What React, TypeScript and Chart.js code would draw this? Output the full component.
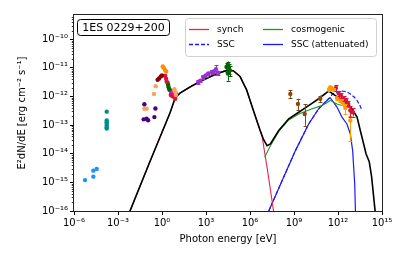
import React, { useEffect, useRef } from 'react';
import { Chart, registerables } from 'chart.js';

Chart.register(...registerables);

const FONT = "'DejaVu Sans', sans-serif";

// ---- axis ticks (log10 exponents) ----
const xTickExps = [-6, -3, 0, 3, 6, 9, 12, 15];
const yTickExps = [-16, -15, -14, -13, -12, -11, -10];
const xMin = 1e-6;
const xMax = 1e15;
const yMin = 1e-16;
const yMax = 7e-10;

// ---- model curves: log10 photon energy [eV] and log10 E^2 dN/dE ----
const totalLogE = [-2.3, -0.82, 0.55, 0.89, 1.23, 1.91, 2.59, 3.73, 4.41, 4.86, 5.32, 5.77, 6.22, 6.68, 6.92, 7.16, 7.39, 7.96, 8.64, 9.32, 10.0, 10.68, 11.36, 11.82, 12.5, 12.95, 13.3, 13.52, 13.75, 13.91, 14.13, 14.29, 14.55];
const totalLogF = [-16.15, -14.27, -12.57, -12.06, -11.88, -11.67, -11.48, -11.21, -11.09, -11.1, -11.3, -11.77, -12.47, -13.17, -13.5, -13.72, -13.66, -13.19, -12.78, -12.55, -12.32, -12.08, -11.81, -11.97, -12.2, -12.43, -12.72, -13.19, -13.66, -14.0, -14.28, -14.8, -16.1];

const synchLogE = [-2.3, -0.82, 0.55, 0.89, 1.23, 1.91, 2.59, 3.73, 4.41, 4.86, 5.32, 5.77, 6.22, 6.68, 6.82, 7.2, 7.65];
const synchLogF = [-16.15, -14.27, -12.57, -12.06, -11.88, -11.67, -11.48, -11.21, -11.09, -11.1, -11.3, -11.77, -12.47, -13.17, -13.38, -14.6, -16.15];

const cosmoLogE = [7.0, 7.39, 7.96, 8.64, 9.32, 10.23, 10.9, 11.48, 11.93, 12.5, 12.95];
const cosmoLogF = [-14.12, -13.72, -13.22, -12.82, -12.61, -12.43, -12.32, -12.14, -12.26, -12.35, -12.43];

const sscAttLogE = [7.28, 8.18, 9.09, 10.0, 10.68, 11.36, 11.48, 11.93, 12.27, 12.61, 12.84, 13.0, 13.14, 13.2];
const sscAttLogF = [-16.0, -14.95, -13.9, -12.96, -12.43, -12.08, -12.05, -12.37, -12.72, -12.96, -13.31, -13.9, -15.06, -16.2];

const sscLogE = [7.28, 8.18, 9.09, 10.0, 10.68, 11.36, 11.64, 12.0, 12.27, 12.6, 12.84, 13.1, 13.3, 13.5, 13.64];
const sscLogF = [-16.0, -14.95, -13.9, -12.96, -12.43, -12.08, -11.91, -11.83, -11.81, -11.84, -11.91, -12.02, -12.14, -12.32, -12.5];

// ---- observed data (log10 E, log10 flux) ----
const radioE = [-5.25, -4.68, -4.68, -4.45];
const radioF = [-14.92, -14.8, -14.59, -14.53];

const ir1E = [-3.77, -3.77, -3.77, -3.77, -3.77, -3.77, -3.77];
const ir1F = [-12.53, -12.84, -12.9, -12.96, -13.02, -13.08, -13.12];

const indigoE = [-1.2, -0.45, -1.25, -1.05, -0.95, -0.52];
const indigoF = [-12.27, -12.42, -12.8, -12.78, -12.83, -12.72];

const sandyE = [-1.2, -1.05, -0.55, -0.43, 0.85, 0.92, 0.95];
const sandyF = [-12.43, -12.43, -11.91, -11.64, -11.75, -11.85, -11.95];

const orangeOptE = [0.05, 0.12, 0.2, 0.28];
const orangeOptF = [-10.95, -11.0, -11.07, -11.13];

const darkredE = [-0.3, -0.2, -0.08, 0.0];
const darkredF = [-11.42, -11.37, -11.3, -11.27];

const crimsonOptE = [0.22, 0.28, 0.32, 0.6, 0.75, 0.9, 0.95];
const crimsonOptF = [-11.28, -11.38, -11.48, -11.95, -12.0, -12.08, -11.9];

const greenOptE = [0.38, 0.42, 0.45, 0.5];
const greenOptF = [-11.52, -11.6, -11.68, -11.76];

const magentaE = [0.55, 0.62, 0.7, 0.78];
const magentaF = [-11.78, -11.88, -11.98, -11.95];

const limeE = [0.7, 0.75];
const limeF = [-11.8, -11.9];

const xrayE = [2.47, 2.62, 2.81, 2.98, 3.16, 3.38, 3.55, 3.68, 3.84];
const xrayF = [-11.5, -11.45, -11.32, -11.27, -11.2, -11.15, -11.12, -11.05, -11.18];
const xrayLo = [-11.56, -11.51, -11.38, -11.33, -11.26, -11.21, -11.18, -11.24, -11.26];
const xrayHi = [-11.44, -11.39, -11.26, -11.21, -11.14, -11.09, -11.06, -10.9, -11.1];

const hardxE = [4.4, 4.48, 4.55, 4.62, 4.5];
const hardxF = [-10.97, -10.92, -11.0, -11.08, -11.2];
const hardxLo = [-11.15, -11.1, -11.2, -11.3, -11.45];
const hardxHi = [-10.82, -10.78, -10.85, -10.92, -11.05];

const fermiE = [8.75, 9.27, 9.73, 10.79];
const fermiF = [-11.91, -12.26, -12.61, -12.08];
const fermiLo = [-12.05, -12.47, -13.02, -12.2];
const fermiHi = [-11.77, -12.08, -12.28, -11.97];

const vhe1E = [11.4, 11.48, 11.55, 11.7, 11.93, 12.15, 12.3, 12.5, 12.84];
const vhe1F = [-11.75, -11.68, -11.72, -11.76, -12.05, -12.12, -12.2, -12.4, -12.84];
const vhe1Lo = [-11.8, -11.74, -11.78, -11.82, -12.12, -12.2, -12.3, -12.6, -13.54];
const vhe1Hi = [-11.7, -11.62, -11.66, -11.7, -11.98, -12.04, -12.1, -12.25, -12.67];

const vhe2E = [11.86, 12.05, 12.2, 12.38, 12.55, 12.7, 12.84, 13.0];
const vhe2F = [-11.7, -11.9, -11.97, -12.08, -12.15, -12.26, -12.49, -12.55];
const vhe2Lo = [-11.81, -11.98, -12.05, -12.16, -12.23, -12.35, -12.72, -12.7];
const vhe2Hi = [-11.6, -11.82, -11.89, -12.0, -12.07, -12.17, -12.32, -12.42];

const sourceName = '1ES 0229+200';
const legendItems = [
  { label: 'synch', color: '#e0284f', dash: [] as number[] },
  { label: 'SSC', color: '#1a1aff', dash: [4, 2] },
  { label: 'cosmogenic', color: '#1f9a1f', dash: [] as number[] },
  { label: 'SSC (attenuated)', color: '#1a1aff', dash: [] as number[] },
];

const SUP: Record<string, string> = {
  '-': '\u207B', '0': '\u2070', '1': '\u00B9', '2': '\u00B2', '3': '\u00B3',
  '4': '\u2074', '5': '\u2075', '6': '\u2076', '7': '\u2077', '8': '\u2078', '9': '\u2079',
};
const powLabel = (v: number) => {
  const e = Math.round(Math.log10(v));
  return '10' + String(e).split('').map((c) => SUP[c]).join('');
};

const pts = (le: number[], lf: number[]) => le.map((e, i) => ({ x: Math.pow(10, e), y: Math.pow(10, lf[i]) }));

const curve = (label: string, le: number[], lf: number[], color: string, width: number, order: number, dash: number[] = []) => ({
  label,
  data: pts(le, lf),
  showLine: true,
  pointRadius: 0,
  borderColor: color,
  backgroundColor: color,
  borderWidth: width,
  borderDash: dash,
  fill: false,
  tension: 0,
  order,
});

const points = (label: string, le: number[], lf: number[], color: string, lo?: number[], hi?: number[], r = 2.2) => ({
  label,
  data: pts(le, lf),
  showLine: false,
  pointRadius: r,
  pointBackgroundColor: color,
  pointBorderColor: color,
  pointBorderWidth: 0,
  borderColor: color,
  backgroundColor: color,
  errLo: lo,
  errHi: hi,
  order: 0,
});

const errorBarPlugin = {
  id: 'errorBars',
  afterDatasetsDraw(chart: any) {
    const { ctx } = chart;
    const xs = chart.scales.x;
    const ys = chart.scales.y;
    const area = chart.chartArea;
    ctx.save();
    ctx.beginPath();
    ctx.rect(area.left, area.top, area.right - area.left, area.bottom - area.top);
    ctx.clip();
    chart.data.datasets.forEach((ds: any) => {
      if (!ds.errLo) return;
      ctx.strokeStyle = ds.borderColor;
      ctx.lineWidth = 1;
      ds.data.forEach((p: any, i: number) => {
        const px = Math.round(xs.getPixelForValue(p.x)) + 0.5;
        const y1 = ys.getPixelForValue(Math.pow(10, ds.errLo[i]));
        const y2 = ys.getPixelForValue(Math.pow(10, ds.errHi[i]));
        ctx.beginPath();
        ctx.moveTo(px, y1);
        ctx.lineTo(px, y2);
        ctx.moveTo(px - 2, Math.round(y1) + 0.5);
        ctx.lineTo(px + 2, Math.round(y1) + 0.5);
        ctx.moveTo(px - 2, Math.round(y2) + 0.5);
        ctx.lineTo(px + 2, Math.round(y2) + 0.5);
        ctx.stroke();
      });
    });
    ctx.restore();
  },
};

const framePlugin = {
  id: 'frameAndDecor',
  afterDraw(chart: any) {
    const { ctx, chartArea: a } = chart;
    const ys = chart.scales.y;
    ctx.save();
    // minor ticks on y axis
    ctx.strokeStyle = '#000';
    ctx.lineWidth = 0.8;
    for (let e = -17; e <= -10; e++) {
      for (let k = 2; k <= 9; k++) {
        const v = k * Math.pow(10, e);
        if (v < yMin || v > yMax) continue;
        const py = Math.round(ys.getPixelForValue(v)) + 0.5;
        ctx.beginPath();
        ctx.moveTo(a.left - 2.2, py);
        ctx.lineTo(a.left, py);
        ctx.stroke();
      }
    }
    // frame
    ctx.strokeStyle = '#222';
    ctx.lineWidth = 1;
    ctx.strokeRect(Math.round(a.left) - 0.5, Math.round(a.top) - 0.5, Math.round(a.right - a.left) + 1, Math.round(a.bottom - a.top) + 1);

    // source label
    ctx.font = `11px ${FONT}`;
    ctx.textBaseline = 'middle';
    ctx.textAlign = 'center';
    ctx.beginPath();
    (ctx as any).roundRect(77.5, 19.5, 92, 16, 3);
    ctx.fillStyle = '#fff';
    ctx.fill();
    ctx.strokeStyle = '#000';
    ctx.lineWidth = 1;
    ctx.stroke();
    ctx.fillStyle = '#000';
    ctx.fillText(sourceName, 123.5, 28);

    // legend
    ctx.beginPath();
    (ctx as any).roundRect(185.5, 18.5, 191, 38, 3);
    ctx.fillStyle = 'rgba(255,255,255,0.85)';
    ctx.fill();
    ctx.strokeStyle = '#d0d0d0';
    ctx.stroke();
    ctx.font = `9px ${FONT}`;
    ctx.textAlign = 'left';
    const cols = [189, 263];
    const rows = [29.5, 44.5];
    legendItems.forEach((it, i) => {
      const cx = cols[Math.floor(i / 2)];
      const cy = rows[i % 2];
      ctx.strokeStyle = it.color;
      ctx.lineWidth = 1.3;
      ctx.setLineDash(it.dash);
      ctx.beginPath();
      ctx.moveTo(cx, cy);
      ctx.lineTo(cx + 20, cy);
      ctx.stroke();
      ctx.setLineDash([]);
      ctx.fillStyle = '#000';
      ctx.fillText(it.label, cx + 28, cy);
    });
    ctx.restore();
  },
};

export default function App() {
  const ref = useRef<HTMLCanvasElement | null>(null);
  useEffect(() => {
    if (!ref.current) return;
    const datasets: any[] = [
      points('radio', radioE, radioF, '#1e90ff'),
      points('ir1', ir1E, ir1F, '#008b8b'),
      points('indigo', indigoE, indigoF, '#4b0082'),
      points('sandy', sandyE, sandyF, '#f4a460'),
      points('orangeOpt', orangeOptE, orangeOptF, '#ff8c00'),
      points('darkred', darkredE, darkredF, '#8b0000'),
      points('crimsonOpt', crimsonOptE, crimsonOptF, '#dc143c'),
      points('greenOpt', greenOptE, greenOptF, '#006400'),
      points('magenta', magentaE, magentaF, '#ff00ff'),
      points('lime', limeE, limeF, '#9acd32'),
      points('xray', xrayE, xrayF, '#9932cc', xrayLo, xrayHi),
      points('hardx', hardxE, hardxF, '#006400', hardxLo, hardxHi),
      points('fermi', fermiE, fermiF, '#8b4513', fermiLo, fermiHi),
      points('vhe1', vhe1E, vhe1F, '#ff9900', vhe1Lo, vhe1Hi),
      points('vhe2', vhe2E, vhe2F, '#dc143c', vhe2Lo, vhe2Hi),
      curve('total', totalLogE, totalLogF, '#000000', 1.6, 1),
      curve('synch', synchLogE, synchLogF, '#e0284f', 1.1, 2),
      curve('cosmogenic', cosmoLogE, cosmoLogF, '#1f9a1f', 1.1, 2),
      curve('SSC (attenuated)', sscAttLogE, sscAttLogF, '#1a1aff', 1.2, 3),
      curve('SSC', sscLogE, sscLogF, '#1a1aff', 1.2, 4, [4, 2]),
    ];
    const chart = new Chart(ref.current, {
      type: 'scatter',
      data: { datasets },
      options: {
        responsive: false,
        animation: false,
        devicePixelRatio: 1,
        events: [],
        layout: { padding: { top: 15, right: 25, left: 0, bottom: 0 } },
        plugins: { legend: { display: false }, tooltip: { enabled: false } },
        scales: {
          x: {
            type: 'logarithmic',
            min: xMin,
            max: xMax,
            bounds: 'data',
            afterBuildTicks: (s: any) => {
              s.ticks = xTickExps.map((e) => ({ value: Math.pow(10, e) }));
            },
            afterFit: (s: any) => {
              s.height = 51;
            },
            ticks: {
              callback: (v: any) => powLabel(Number(v)),
              font: { family: FONT, size: 10 },
              color: '#000',
              padding: 2,
              autoSkip: false,
              maxRotation: 0,
            },
            grid: { drawOnChartArea: false, drawTicks: true, tickLength: 4, color: '#000' },
            border: { display: false },
            title: {
              display: true,
              text: 'Photon energy [eV]',
              font: { family: FONT, size: 10 },
              color: '#000',
              padding: { top: 0, bottom: 17 },
            },
          },
          y: {
            type: 'logarithmic',
            min: yMin,
            max: yMax,
            bounds: 'data',
            afterBuildTicks: (s: any) => {
              s.ticks = yTickExps.map((e) => ({ value: Math.pow(10, e) }));
            },
            afterFit: (s: any) => {
              s.width = 74;
            },
            ticks: {
              callback: (v: any) => powLabel(Number(v)),
              font: { family: FONT, size: 10 },
              color: '#000',
              padding: 2,
              autoSkip: false,
            },
            grid: { drawOnChartArea: false, drawTicks: true, tickLength: 4, color: '#000' },
            border: { display: false },
            title: {
              display: true,
              text: 'E\u00B2dN/dE [erg cm\u207B\u00B2 s\u207B\u00B9]',
              font: { family: FONT, size: 10 },
              color: '#000',
              padding: { top: 16, bottom: 0 },
            },
          },
        },
      },
      plugins: [errorBarPlugin, framePlugin],
    } as any);
    return () => chart.destroy();
  }, []);
  return (
    <div style={{ position: 'absolute', left: 0, top: 0, width: 407, height: 262, background: '#fff' }}>
      <canvas ref={ref} width={407} height={262} />
    </div>
  );
}
